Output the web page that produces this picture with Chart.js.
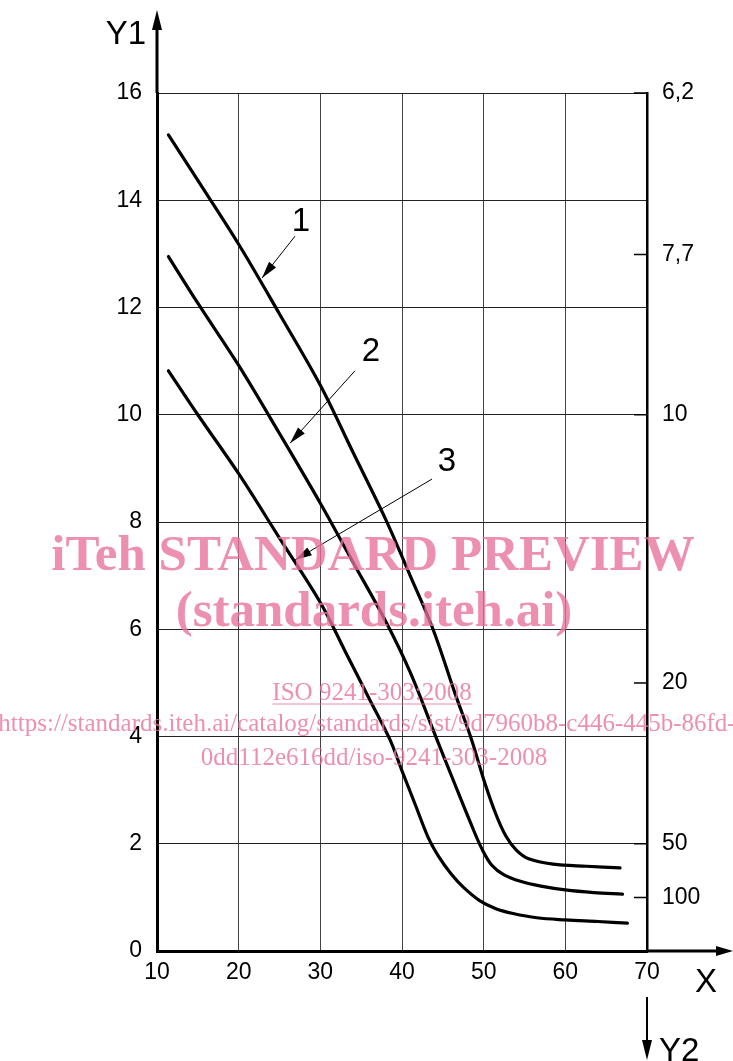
<!DOCTYPE html>
<html>
<head>
<script src="https://cdn.jsdelivr.net/npm/chart.js@4.4.1/dist/chart.umd.min.js"></script>
<style>
  body { margin: 0; background: #fff; }
  canvas { display: block; }
</style>
</head>
<body>
<canvas id="isoChart" width="733" height="1061"></canvas>
<script>
// curve values (X, Y1)
const curve1X = [11.4, 15, 20, 25, 30, 34, 38, 41, 43.8, 46.5, 48.5, 50, 51.5, 52.7, 54, 55.5, 58.5, 62.6, 66.7];
const curve1Y = [15.22, 14.37, 13.18, 11.88, 10.55, 9.3, 8.05, 7.0, 6.0, 4.8, 3.95, 3.2, 2.55, 2.15, 1.88, 1.72, 1.62, 1.58, 1.55];

const curve2X = [11.4, 15, 20, 25, 30, 34, 38, 41, 44, 46.5, 48.5, 49.8, 51, 52.5, 54.5, 57, 60, 63.5, 67.0];
const curve2Y = [12.95, 12.08, 10.92, 9.65, 8.35, 7.25, 6.15, 5.2, 4.05, 3.1, 2.35, 1.9, 1.6, 1.42, 1.3, 1.21, 1.14, 1.09, 1.06];

const curve3X = [11.4, 15, 20, 25, 30, 33, 36, 38.5, 40, 41.7, 43.2, 44.5, 46, 47.5, 49.5, 51.5, 53.6, 56.5, 60, 64, 67.6];
const curve3Y = [10.82, 10.0, 8.9, 7.7, 6.5, 5.6, 4.7, 3.95, 3.36, 2.7, 2.12, 1.76, 1.44, 1.19, 0.94, 0.79, 0.7, 0.62, 0.58, 0.55, 0.52];

// right axis Y2 (reciprocal scale)
const y2Labels = ['6,2', '7,7', '10', '20', '50', '100'];
const y2Values = [6.25, 7.7, 10, 20, 50, 100];

// curve labels and leader arrows, in data units
const curveNames = ['1', '2', '3'];
const labelPos = [[27.63, 13.59], [36.2, 11.17], [45.5, 9.12]];
const arrowTail = [[26.9, 13.33], [34.24, 10.82], [43.67, 8.80]];
const arrowTip = [[22.86, 12.55], [26.29, 9.47], [26.9, 7.29]];

const watermark = [
  'iTeh STANDARD PREVIEW',
  '(standards.iteh.ai)',
  'ISO 9241-303:2008',
  'https://standards.iteh.ai/catalog/standards/sist/9d7960b8-c446-445b-86fd-',
  '0dd112e616dd/iso-9241-303-2008'
];

function zip(xs, ys) {
  return xs.map((x, i) => ({ x: x, y: ys[i] }));
}

const sans = '"Liberation Sans", Arial, sans-serif';
const serif = '"Liberation Serif", "Times New Roman", serif';

function arrowHead(ctx, x1, y1, x2, y2, len, half) {
  const a = Math.atan2(y2 - y1, x2 - x1);
  ctx.beginPath();
  ctx.moveTo(x2, y2);
  ctx.lineTo(x2 - len * Math.cos(a) + half * Math.sin(a), y2 - len * Math.sin(a) - half * Math.cos(a));
  ctx.lineTo(x2 - len * Math.cos(a) - half * Math.sin(a), y2 - len * Math.sin(a) + half * Math.cos(a));
  ctx.closePath();
  ctx.fill();
}

const extras = {
  id: 'extras',
  afterDatasetsDraw(chart) {
    const ctx = chart.ctx;
    const xs = chart.scales.x, ys = chart.scales.y, y2 = chart.scales.y2;
    const a = chart.chartArea;
    ctx.save();
    ctx.strokeStyle = '#000';
    ctx.fillStyle = '#000';

    // axis arrows
    ctx.lineWidth = 3;
    ctx.beginPath();
    ctx.moveTo(a.left, a.top);
    ctx.lineTo(a.left, 28);
    ctx.moveTo(a.right, a.bottom);
    ctx.lineTo(718, a.bottom);
    ctx.stroke();
    arrowHead(ctx, a.left, 100, a.left, 10, 20, 5);
    arrowHead(ctx, a.right, a.bottom, 733, a.bottom, 17, 5);
    ctx.lineWidth = 2;
    ctx.beginPath();
    ctx.moveTo(a.right, 997);
    ctx.lineTo(a.right, 1042);
    ctx.stroke();
    arrowHead(ctx, a.right, 997, a.right, 1060, 20, 5);

    // inside ticks of Y2
    ctx.lineWidth = 1.5;
    ctx.beginPath();
    y2.ticks.forEach(t => {
      const py = y2.getPixelForValue(t.value);
      ctx.moveTo(a.right - 13, py);
      ctx.lineTo(a.right, py);
    });
    ctx.stroke();

    // axis titles
    ctx.font = '33px ' + sans;
    ctx.textBaseline = 'alphabetic';
    ctx.textAlign = 'right';
    ctx.fillText('Y1', 146, 44);
    ctx.textAlign = 'left';
    ctx.fillText('X', 695, 992);
    ctx.fillText('Y2', 659, 1061);

    // leader arrows and curve numbers
    ctx.lineWidth = 1;
    for (let i = 0; i < curveNames.length; i++) {
      const tx = xs.getPixelForValue(arrowTail[i][0]), ty = ys.getPixelForValue(arrowTail[i][1]);
      const hx = xs.getPixelForValue(arrowTip[i][0]), hy = ys.getPixelForValue(arrowTip[i][1]);
      ctx.beginPath();
      ctx.moveTo(tx, ty);
      ctx.lineTo(hx, hy);
      ctx.stroke();
      arrowHead(ctx, tx, ty, hx, hy, 17, 4.5);
      ctx.font = '33px ' + sans;
      ctx.textAlign = 'center';
      ctx.textBaseline = 'middle';
      ctx.fillText(curveNames[i], xs.getPixelForValue(labelPos[i][0]), ys.getPixelForValue(labelPos[i][1]));
    }
    ctx.restore();
  },
  afterDraw(chart) {
    const ctx = chart.ctx;
    ctx.save();
    ctx.fillStyle = 'rgba(232, 112, 155, 0.78)';
    ctx.strokeStyle = 'rgba(232, 112, 155, 0.78)';
    ctx.textAlign = 'center';
    ctx.textBaseline = 'alphabetic';
    ctx.font = 'bold 51px ' + serif;
    ctx.fillText(watermark[0], 373, 570);
    ctx.fillText(watermark[1], 374, 626);
    ctx.font = '25px ' + serif;
    ctx.fillText(watermark[2], 372, 700);
    const w = ctx.measureText(watermark[2]).width;
    ctx.lineWidth = 1.2;
    ctx.beginPath();
    ctx.moveTo(372 - w / 2, 704);
    ctx.lineTo(372 + w / 2, 704);
    ctx.stroke();
    ctx.fillText(watermark[3], 367, 731);
    ctx.fillText(watermark[4], 374, 765);
    ctx.restore();
  }
};

const tickFont = { family: sans, size: 23 };

new Chart(document.getElementById('isoChart'), {
  type: 'line',
  data: {
    datasets: [
      { label: '1', data: zip(curve1X, curve1Y) },
      { label: '2', data: zip(curve2X, curve2Y) },
      { label: '3', data: zip(curve3X, curve3Y) }
    ]
  },
  options: {
    responsive: false,
    animation: false,
    layout: { padding: { top: 93, left: 0, right: 0, bottom: 0 } },
    elements: {
      line: { borderColor: '#000', borderWidth: 3.2, tension: 0.35, borderCapStyle: 'round', borderJoinStyle: 'round' },
      point: { radius: 0 }
    },
    plugins: { legend: { display: false }, tooltip: { enabled: false } },
    scales: {
      x: {
        type: 'linear', min: 10, max: 70,
        ticks: { stepSize: 10, color: '#000', font: tickFont, padding: 8, maxRotation: 0 },
        grid: { color: '#444', lineWidth: 1, drawTicks: false },
        border: { color: '#000', width: 3 },
        afterFit(s) { s.height = 110; }
      },
      y: {
        min: 0, max: 16,
        ticks: { stepSize: 2, color: '#000', font: tickFont, padding: 15 },
        grid: { color: '#222', lineWidth: 1, drawTicks: false },
        border: { color: '#000', width: 3 },
        afterFit(s) { s.width = 157; }
      },
      y2: {
        position: 'right', min: 0, max: 16,
        afterBuildTicks(s) { s.ticks = y2Values.map(v => ({ value: 100 / v })); },
        ticks: { color: '#000', font: tickFont, padding: 15, callback: (v, i) => y2Labels[i] },
        grid: { drawOnChartArea: false, drawTicks: false },
        border: { color: '#000', width: 2.5 },
        afterFit(s) { s.width = 86; }
      }
    }
  },
  plugins: [extras]
});
</script>
</body>
</html>
